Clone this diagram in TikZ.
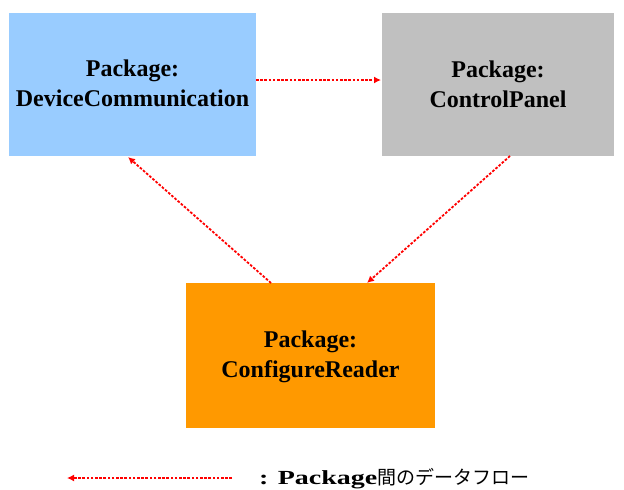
\documentclass[tikz,border=0pt]{standalone}
\usepackage{fontspec}
\setmainfont{Liberation Serif}
\newfontfamily\jpfont{Noto Sans CJK JP}
\usetikzlibrary{arrows.meta}
\definecolor{pkgblue}{HTML}{99CCFF}
\definecolor{pkggrey}{HTML}{C0C0C0}
\definecolor{pkgorange}{HTML}{FF9900}
\definecolor{flowred}{HTML}{FF0000}
\begin{document}
\begin{tikzpicture}[x=1pt,y=-1pt,
  pkgbox/.style={inner sep=0pt, align=center,
    font=\fontsize{24}{30}\selectfont\bfseries},
  flow/.style={draw=flowred, line width=1.8pt, dash pattern=on 2.6pt off 1.6pt,
    -{Latex[length=7pt,width=7pt]}}]
\useasboundingbox (0,0) rectangle (624,490);
% package boxes
\fill[pkgblue] (9,13) rectangle (256,156);
\fill[pkggrey] (382,13) rectangle (614,156);
\fill[pkgorange] (186,283) rectangle (435,428);
\node[pkgbox] (dc) at (132.5,83) {Package:\\DeviceCommunication};
\node[pkgbox] (cp) at (498,84) {Package:\\ControlPanel};
\node[pkgbox] (cr) at (310.5,357) {Package:\\ConfigureReader};
\coordinate (dcR) at (256,80);
\coordinate (cpL) at (381,80);
\coordinate (dcB) at (128,157);
\coordinate (crTL) at (271,283);
\coordinate (cpB) at (510,156);
\coordinate (crTR) at (367,283);
% data flows between packages
\draw[flow] (dcR) -- (cpL);
\draw[flow] (crTL) -- (dcB);
\draw[flow] (cpB) -- (crTR);
% legend
\coordinate (legR) at (232,478);
\coordinate (legL) at (67,478);
\draw[flow] (legR) -- (legL);
\node[anchor=base west, inner sep=0pt] (leg) at (259,484)
  {\scalebox{1.4}[1]{\fontsize{20}{24}\selectfont\bfseries : Package}%
   {\fontsize{19}{24}\selectfont\jpfont 間のデータフロー}};
\end{tikzpicture}
\end{document}
